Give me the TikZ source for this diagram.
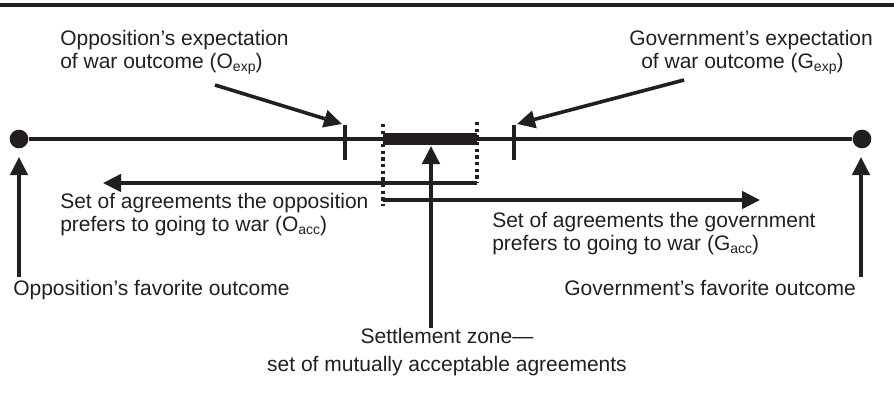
\documentclass[tikz,border=0pt]{standalone}
\usepackage{fontspec}
\setmainfont{Liberation Sans}
\usetikzlibrary{arrows.meta}

\definecolor{ink}{RGB}{35,31,32}
\newcommand{\subtxt}[1]{\raisebox{-0.35ex}{\fontsize{10.5}{10.5}\selectfont #1}}

\tikzset{
  txt/.style={inner sep=0pt, text=ink, font=\fontsize{15.75}{17.25}\selectfont},
  ln/.style={draw=ink, line width=2.7pt},
  arr/.style={ln, -{Triangle[length=13.5pt,width=13pt]}},
  dotln/.style={draw=ink, line width=2.5pt, dash pattern=on 2.4pt off 2.6pt},
  endpt/.style={circle, fill=ink, inner sep=0pt, minimum size=14pt},
}

\begin{document}
\begin{tikzpicture}[x=0.75pt,y=0.75pt,yscale=-1,xscale=1]
\useasboundingbox (0,0) rectangle (894,394);

%Top rule
\draw [ink, line width=3pt] (0,4.5) -- (894,4.5) ;

%Main line with end points
\node [endpt] (ofav) at (19,139) {};
\node [endpt] (gfav) at (862,139) {};
\draw [ln] (ofav) -- (gfav) ;

%Expectation ticks
\coordinate (oexpT) at (345,125);
\coordinate (oexpB) at (345,160);
\coordinate (gexpT) at (514,125);
\coordinate (gexpB) at (514,160);
\draw [ln] (oexpT) -- (oexpB) ;
\draw [ln] (gexpT) -- (gexpB) ;

%Settlement zone bar
\coordinate (zoneL) at (383,139);
\coordinate (zoneR) at (477,139);
\draw [draw=ink, line width=8.5pt] (zoneL) -- (zoneR) ;

%Dotted bounds
\coordinate (dotLT) at (383,124);
\coordinate (dotLB) at (383,206);
\coordinate (dotRT) at (477,122);
\coordinate (dotRB) at (477,183);
\draw [dotln] (dotLT) -- (dotLB) ;
\draw [dotln] (dotRT) -- (dotRB) ;

%Acceptable sets
\coordinate (oaccE) at (103,183);
\coordinate (gaccS) at (383,200);
\coordinate (gaccE) at (760,200);
\draw [arr] (dotRB) -- (oaccE) ;
\draw [arr] (gaccS) -- (gaccE) ;

% Text Node
\node [txt, anchor=base west, align=left] (oexpl) at (60,68) {Opposition’s expectation\\of war outcome (O\subtxt{exp})};
% Text Node
\node [txt, anchor=base west, align=left] (gexpl) at (629,68) {Government’s expectation\\\hspace*{9pt}of war outcome (G\subtxt{exp})};
% Text Node
\node [txt, anchor=base west, align=left] (oaccl) at (60,231) {Set of agreements the opposition\\prefers to going to war (O\subtxt{acc})};
% Text Node
\node [txt, anchor=base west, align=left] (gaccl) at (492,250) {Set of agreements the government\\prefers to going to war (G\subtxt{acc})};
% Text Node
\node [txt, anchor=base west] (ofavl) at (13,295) {Opposition’s favorite outcome};
% Text Node
\node [txt, anchor=base east] (gfavl) at (856,295) {Government’s favorite outcome};
% Text Node
\node [txt, anchor=base, align=center, font=\fontsize{15.75}{21}\selectfont] (settle) at (447,371) {Settlement zone—\\set of mutually acceptable agreements};

%Pointer arrows
\coordinate (oexpS) at (215,85);
\coordinate (oexpP) at (342,124);
\coordinate (gexpS) at (684,80);
\coordinate (gexpP) at (517,124);
\draw [arr] (oexpS) -- (oexpP) ;
\draw [arr] (gexpS) -- (gexpP) ;
\coordinate (ofavS) at (19,277);
\coordinate (ofavP) at (19,157);
\coordinate (gfavS) at (861,277);
\coordinate (gfavP) at (861,157);
\draw [arr] (ofavS) -- (ofavP) ;
\draw [arr] (gfavS) -- (gfavP) ;
\coordinate (settleS) at (431,328);
\coordinate (settleP) at (431,146);
\draw [arr] (settleS) -- (settleP) ;

\end{tikzpicture}
\end{document}
